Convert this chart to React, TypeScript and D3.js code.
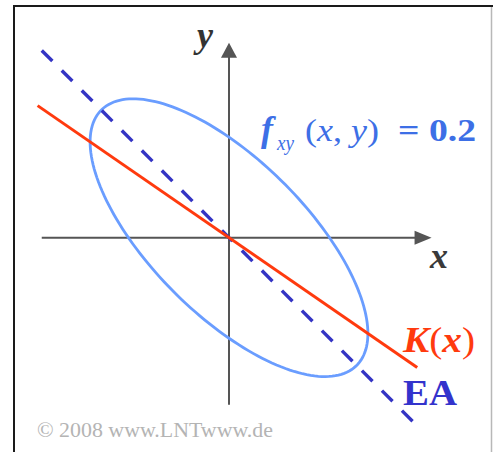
import React from "react";
import * as d3 from "d3";

// Two-dimensional Gaussian: standard deviations and correlation coefficient
const sigmaX = [1];
const sigmaY = [1];
const rho = [-0.69];
// Density level of the drawn contour
const contourLevel = [0.2];

// Axis extents (data units)
const xAxisExtent = [-0.587, 0.635];
const yAxisExtent = [-0.524, 0.611];
// x ranges over which the two straight lines are drawn
const regressionRange = [-0.6, 0.59];
const mainAxisRange = [-0.587, 0.59];

const W = 493;
const H = 452;
const originX = 229;
const originY = 237.7;
const unit = 319;

export default function App() {
  const sx = sigmaX[0];
  const sy = sigmaY[0];
  const r = rho[0];
  const x = d3.scaleLinear().domain([0, 1]).range([originX, originX + unit]);
  const y = d3.scaleLinear().domain([0, 1]).range([originY, originY - unit]);

  // Contour radius from f(x,y) = level
  const fMax = 1 / (2 * Math.PI * sx * sy * Math.sqrt(1 - r * r));
  const rad = Math.sqrt(-2 * Math.log(contourLevel[0] / fMax));
  const ts = d3.range(0, 361, 2).map((d) => (d * Math.PI) / 180);
  const ellipsePts: [number, number][] = ts.map((t) => [
    rad * sx * Math.cos(t),
    rad * sy * (r * Math.cos(t) + Math.sqrt(1 - r * r) * Math.sin(t)),
  ]);
  const line = d3
    .line<[number, number]>()
    .x((d) => x(d[0]))
    .y((d) => y(d[1]))
    .curve(d3.curveLinearClosed);
  const seg = d3
    .line<[number, number]>()
    .x((d) => x(d[0]))
    .y((d) => y(d[1]));

  // Regression line K(x) = rho * sy/sx * x
  const kSlope = (r * sy) / sx;
  const kPts: [number, number][] = regressionRange.map((v) => [v, kSlope * v]);
  // Ellipse main axis (45° for equal sigmas)
  const eaSlope = r < 0 ? -1 : 1;
  const eaPts: [number, number][] = mainAxisRange.map((v) => [v, eaSlope * v]);

  const axisColor = "#555";
  const xEnd = x(xAxisExtent[1]);
  const yEnd = y(yAxisExtent[1]);
  const serif = "'Liberation Serif', 'Times New Roman', serif";
  const blue = "#3d6fe6";

  return (
    <svg
      width={W}
      height={H}
      viewBox={`0 0 ${W} ${H}`}
      style={{ position: "absolute", left: 0, top: 0, background: "#fff" }}
    >
      <rect x={0} y={0} width={W} height={H} fill="#fff" />
      {/* frame */}
      <line x1={14} y1={6} x2={14} y2={H} stroke="#1a1a1a" strokeWidth={2} />
      <line x1={13} y1={6} x2={W} y2={6} stroke="#1a1a1a" strokeWidth={2} />
      <line x1={491.5} y1={7} x2={491.5} y2={H} stroke="#b8b8b8" strokeWidth={1.5} />

      {/* axes */}
      <line
        x1={x(xAxisExtent[0])}
        y1={y(0)}
        x2={xEnd - 14}
        y2={y(0)}
        stroke={axisColor}
        strokeWidth={2}
      />
      <path
        d={`M${xEnd},${y(0)} L${xEnd - 17},${y(0) - 7} L${xEnd - 17},${y(0) + 7} Z`}
        fill={axisColor}
      />
      <line
        x1={x(0)}
        y1={y(yAxisExtent[0])}
        x2={x(0)}
        y2={yEnd + 14}
        stroke={axisColor}
        strokeWidth={2}
      />
      <path
        d={`M${x(0)},${yEnd} L${x(0) - 8},${yEnd + 15} L${x(0) + 8},${yEnd + 15} Z`}
        fill={axisColor}
      />

      {/* contour ellipse */}
      <path d={line(ellipsePts) || ""} fill="none" stroke="#6a9dff" strokeWidth={2.8} />

      {/* main axis EA */}
      <path
        d={seg(eaPts) || ""}
        fill="none"
        stroke="#3434c4"
        strokeWidth={3.4}
        strokeDasharray="15 13.3"
      />
      {/* regression line K(x) */}
      <path d={seg(kPts) || ""} fill="none" stroke="#ff3a0e" strokeWidth={3} />

      {/* labels */}
      <text x={197} y={47} fontFamily={serif} fontSize={36} fontStyle="italic" fontWeight="bold" fill="#333">
        y
      </text>
      <text x={430} y={268} fontFamily={serif} fontSize={36} fontStyle="italic" fontWeight="bold" fill="#3a3a3a">
        x
      </text>

      <g fontFamily={serif} fill={blue}>
        <text x={261} y={141} fontSize={36} fontStyle="italic" fontWeight="bold">f</text>
        <text x={277} y={150} fontSize={21} fontStyle="italic" textLength={17} lengthAdjust="spacingAndGlyphs">
          xy
        </text>
        <text x={305} y={141} fontSize={32} textLength={74} lengthAdjust="spacingAndGlyphs">
          (<tspan fontStyle="italic">x</tspan>, <tspan fontStyle="italic">y</tspan>)
        </text>
        <text x={398} y={141} fontSize={32} fontWeight="bold" textLength={78} lengthAdjust="spacingAndGlyphs">
          = 0.2
        </text>
      </g>

      <text x={403} y={352} fontFamily={serif} fontSize={36} fill="#ff3a0e" textLength={72} lengthAdjust="spacingAndGlyphs">
        <tspan fontStyle="italic" fontWeight="bold">K</tspan>
        <tspan>(</tspan>
        <tspan fontStyle="italic" fontWeight="bold">x</tspan>
        <tspan>)</tspan>
      </text>

      <text x={403} y={405} fontFamily={serif} fontSize={35} fontWeight="bold" fill="#3333cc" textLength={54} lengthAdjust="spacingAndGlyphs">
        EA
      </text>

      <text x={37} y={437} fontFamily={serif} fontSize={22} fill="#b4b4b4" textLength={236} lengthAdjust="spacingAndGlyphs">
        © 2008 www.LNTwww.de
      </text>
    </svg>
  );
}
